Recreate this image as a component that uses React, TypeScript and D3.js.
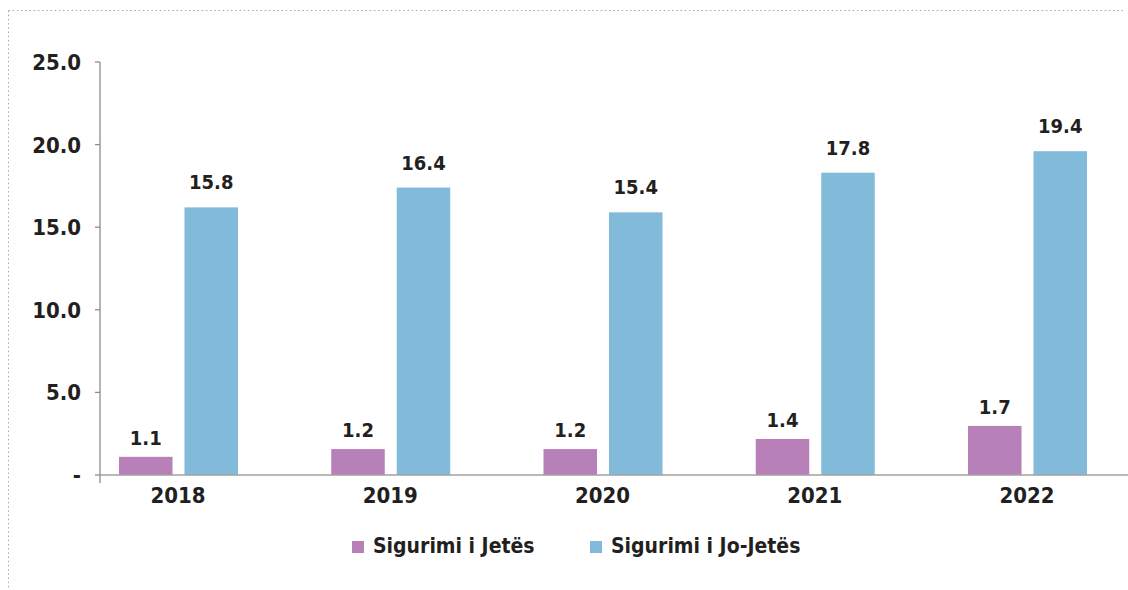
import React from "react";
import * as d3 from "d3";

const years = ["2018", "2019", "2020", "2021", "2022"];
const seriesNames = ["Sigurimi i Jetës", "Sigurimi i Jo-Jetës"];
const lifeValues = [1.1, 1.57, 1.57, 2.18, 2.97];
const nonLifeValues = [16.2, 17.4, 15.9, 18.3, 19.6];
const lifeLabels = ["1.1", "1.2", "1.2", "1.4", "1.7"];
const nonLifeLabels = ["15.8", "16.4", "15.4", "17.8", "19.4"];
const yTicks = [0, 5, 10, 15, 20, 25];
const colors = ["#B880B8", "#82BAD9"];

const W = 1128;
const H = 590;
const FONT = "'DejaVu Sans Condensed', 'DejaVu Sans', sans-serif";
const TEXT = "#231F20";

export default function App() {
  const y = d3.scaleLinear().domain([0, 25]).range([475, 62]);
  const x = d3.scalePoint().domain(years).range([178, 1027]);
  const inner = d3.scaleBand().domain(["a", "b"]).range([-59, 60]).paddingInner(0.183);
  const series = [
    { key: "a", values: lifeValues, labels: lifeLabels, color: colors[0], off: 12 },
    { key: "b", values: nonLifeValues, labels: nonLifeLabels, color: colors[1], off: 18 },
  ];
  const legendX = [352, 590];
  return (
    <svg
      width={W}
      height={H}
      style={{ position: "absolute", left: 0, top: 0, background: "#fff" }}
      fontFamily={FONT}
    >
      <line x1={8.5} y1={10.5} x2={1125} y2={10.5} stroke="#A8A8A8" strokeWidth={1} strokeDasharray="1.5 2.7" />
      <line x1={8.5} y1={10.5} x2={8.5} y2={H} stroke="#A8A8A8" strokeWidth={1} strokeDasharray="1.5 2.7" />

      {/* y axis */}
      <line x1={100} y1={y(25)} x2={100} y2={y(0) + 8} stroke="#8C8C8C" strokeWidth={1.3} />
      {yTicks.map((t) => (
        <g key={t}>
          <line x1={95} x2={100} y1={y(t)} y2={y(t)} stroke="#8C8C8C" strokeWidth={1.3} />
          <text
            x={81}
            y={y(t)}
            dy="0.36em"
            textAnchor="end"
            fontSize={22}
            fontWeight="bold"
            fill={TEXT}
          >
            {t === 0 ? "-" : d3.format(".1f")(t)}
          </text>
        </g>
      ))}

      {/* bars */}
      {series.map((s) =>
        years.map((yr, i) => {
          const bx = (x(yr) as number) + (inner(s.key) as number);
          const top = y(s.values[i]);
          return (
            <g key={s.key + yr}>
              <rect x={bx} y={top} width={inner.bandwidth()} height={y(0) - top} fill={s.color} />
              <text
                x={bx + inner.bandwidth() / 2}
                y={top - s.off}
                textAnchor="middle"
                fontSize={20}
                fontWeight="bold"
                fill={TEXT}
              >
                {s.labels[i]}
              </text>
            </g>
          );
        })
      )}

      {/* x axis */}
      <line x1={100} y1={y(0)} x2={W} y2={y(0)} stroke="#A0A0A0" strokeWidth={1.5} />
      {years.map((yr) => (
        <text
          key={yr}
          x={x(yr) as number}
          y={503}
          textAnchor="middle"
          fontSize={22}
          fontWeight="bold"
          fill={TEXT}
        >
          {yr}
        </text>
      ))}

      {/* legend */}
      {seriesNames.map((n, i) => (
        <g key={n}>
          <rect x={legendX[i]} y={541} width={12} height={12} fill={colors[i]} />
          <text x={legendX[i] + 21} y={553} fontSize={21} fontWeight="bold" fill={TEXT}>
            {n}
          </text>
        </g>
      ))}
    </svg>
  );
}
